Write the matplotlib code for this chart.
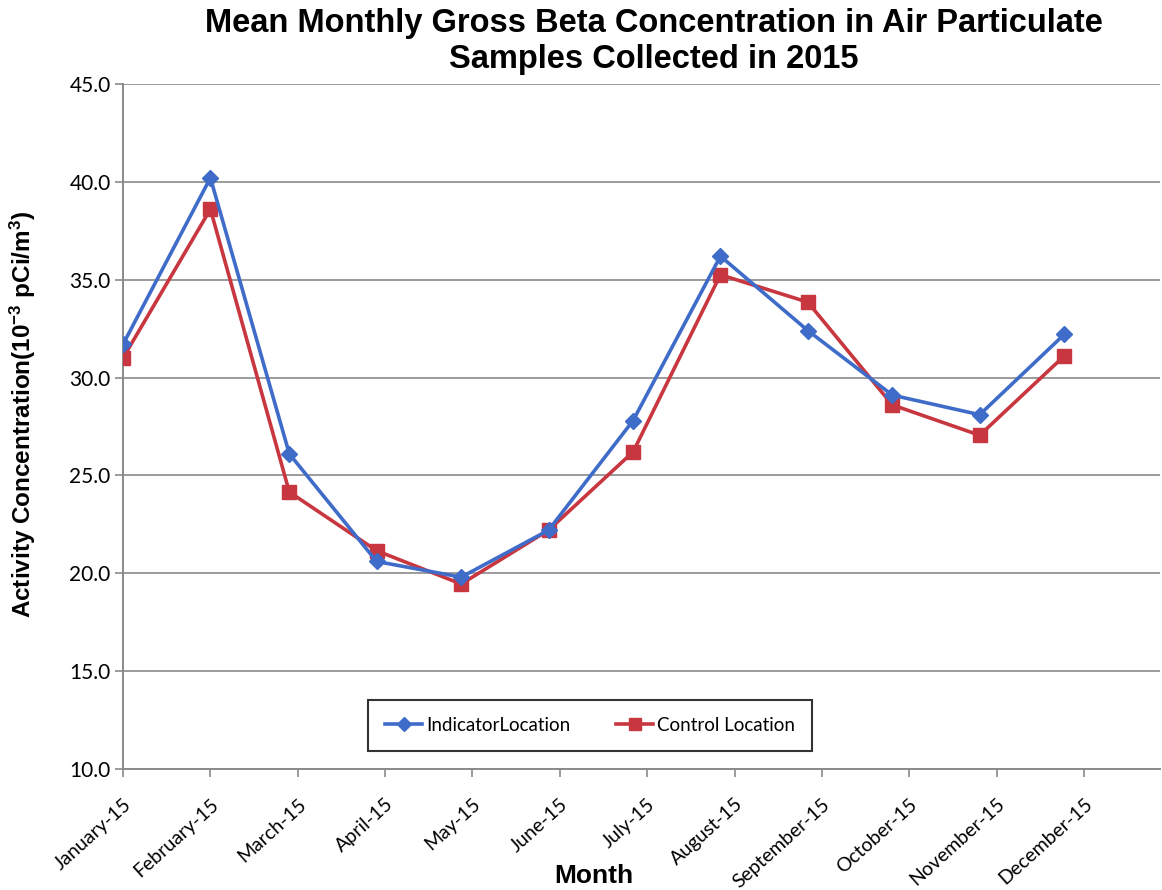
import numpy as np
import matplotlib
matplotlib.use("Agg")
import matplotlib.pyplot as plt
import matplotlib.dates as mdates
from matplotlib.lines import Line2D

# Sampling months (first day of each month)
months = np.array(
    ["2015-01-01", "2015-02-01", "2015-03-01", "2015-04-01", "2015-05-01", "2015-06-01",
     "2015-07-01", "2015-08-01", "2015-09-01", "2015-10-01", "2015-11-01", "2015-12-01"],
    dtype="datetime64[D]",
)

# Mean gross beta activity, 10^-3 pCi/m^3
indicator = [31.7, 40.2, 26.1, 20.6, 19.8, 22.2, 27.8, 36.2, 32.4, 29.1, 28.1, 32.2]
control = [31.0, 38.6, 24.15, 21.15, 19.45, 22.2, 26.2, 35.25, 33.85, 28.6, 27.05, 31.1]

series_names = ["IndicatorLocation", "Control Location"]
y_ticks = [10, 15, 20, 25, 30, 35, 40, 45]

BLUE = "#3f6cc9"
RED = "#c8373f"
GRID = "#8a8a8a"
TICK_FONT = ["Lato", "DejaVu Sans"]
HEAD_FONT = ["Liberation Sans", "DejaVu Sans"]

plt.rcParams["mathtext.fontset"] = "custom"
plt.rcParams["mathtext.rm"] = "Liberation Sans"
plt.rcParams["mathtext.bf"] = "Liberation Sans:bold"
plt.rcParams["mathtext.default"] = "bf"

fig = plt.figure(figsize=(11.62, 8.90), dpi=100)
ax = fig.add_axes([0.1059, 0.1360, 0.8924, 0.7697])

x = months.astype(object)
ax.plot(x, indicator, color=BLUE, lw=2.6, marker="D", ms=8.5,
        markerfacecolor=BLUE, markeredgecolor=BLUE, zorder=4)
ax.plot(x, control, color=RED, lw=2.6, marker="s", ms=9.5,
        markerfacecolor=RED, markeredgecolor=RED, zorder=3)

# Date axis: major unit of 31 days starting at 1 January
start = np.datetime64("2015-01-01")
tick_dates = [(start + np.timedelta64(31 * k, "D")).astype(object) for k in range(12)]
ax.set_xticks(tick_dates)
ax.xaxis.set_major_formatter(mdates.DateFormatter("%B-%y"))
ax.set_xlim(start.astype(object), (start + np.timedelta64(368, "D")).astype(object))

ax.set_ylim(10, 45)
ax.set_yticks(y_ticks)
ax.set_yticklabels([f"{v:.1f}" for v in y_ticks])

for lbl in ax.get_xticklabels():
    lbl.set_rotation(42)
    lbl.set_ha("right")
    lbl.set_rotation_mode("anchor")
    lbl.set_fontfamily(TICK_FONT)
    lbl.set_fontsize(14)
for lbl in ax.get_yticklabels():
    lbl.set_fontfamily(TICK_FONT)
    lbl.set_fontsize(15)

ax.tick_params(axis="x", direction="out", length=6, width=1.2, color=GRID, pad=13)
ax.tick_params(axis="y", direction="out", length=6, width=1.2, color=GRID, pad=3)

ax.grid(axis="y", color=GRID, lw=1.2)
ax.set_axisbelow(True)
for side in ("top", "right"):
    ax.spines[side].set_visible(False)
for side in ("left", "bottom"):
    ax.spines[side].set_color(GRID)
    ax.spines[side].set_linewidth(1.4)

# Titles and axis labels
fig.text(0.563, 0.991, "Mean Monthly Gross Beta Concentration in Air Particulate\nSamples Collected in 2015",
         ha="center", va="top", fontsize=23.5, fontweight="bold",
         family=HEAD_FONT, linespacing=1.2)
fig.text(0.020, 0.534, r"Activity Concentration(10$^{-3}$ pCi/m$^{3}$)",
         rotation=90, ha="center", va="center", fontsize=17.5, fontweight="bold",
         family=HEAD_FONT)
fig.text(0.511, 0.016, "Month", ha="center", va="center", fontsize=19,
         fontweight="bold", family=HEAD_FONT)

handles = [
    Line2D([], [], color=BLUE, lw=2.6, marker="D", ms=7, markerfacecolor=BLUE, markeredgecolor=BLUE),
    Line2D([], [], color=RED, lw=2.6, marker="s", ms=8, markerfacecolor=RED, markeredgecolor=RED),
]
leg = fig.legend(handles, series_names, loc="center", ncol=2,
                 bbox_to_anchor=(0.3167, 0.157, 0.382, 0.056),
                 bbox_transform=fig.transFigure, mode="expand",
                 frameon=True, fancybox=False, shadow=False,
                 handlelength=2.0, handletextpad=0.2, columnspacing=2.5,
                 borderpad=0.9, borderaxespad=0,
                 prop={"family": TICK_FONT, "size": 13.5})
leg.get_frame().set_edgecolor("black")
leg.get_frame().set_linewidth(1.5)

fig.savefig("out.png", dpi=100, facecolor="white")
